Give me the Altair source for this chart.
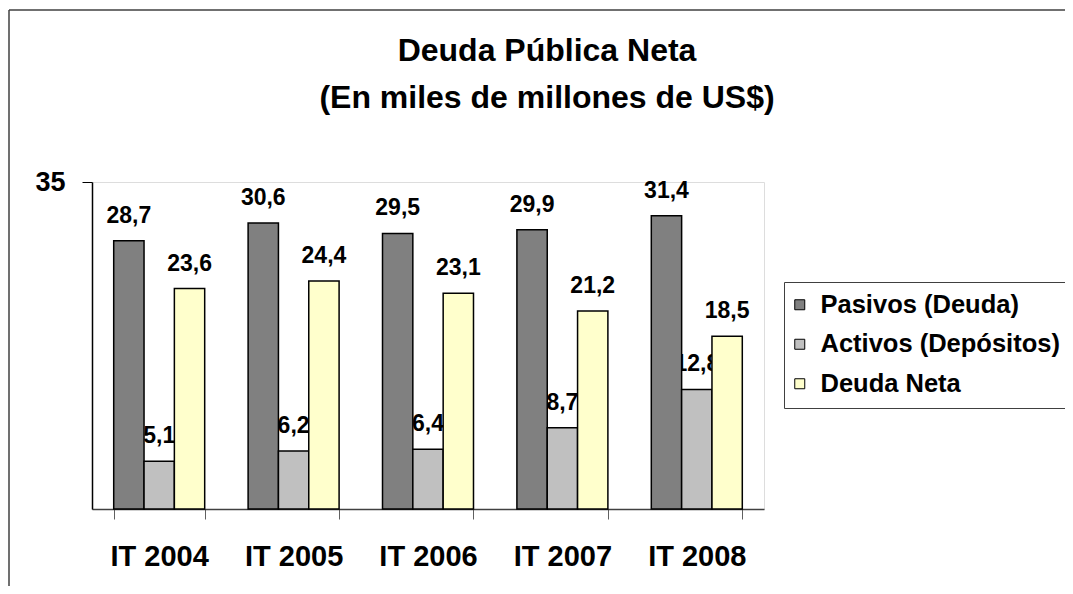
import altair as alt
import pandas as pd

periods = ["IT 2004", "IT 2005", "IT 2006", "IT 2007", "IT 2008"]
series = ["Pasivos (Deuda)", "Activos (Depósitos)", "Deuda Neta"]
pasivos = [28.7, 30.6, 29.5, 29.9, 31.4]
activos = [5.1, 6.2, 6.4, 8.7, 12.8]
neta = [23.6, 24.4, 23.1, 21.2, 18.5]
colors = ["#808080", "#C0C0C0", "#FFFFCC"]

rows = []
for i, p in enumerate(periods):
    for s, vals in zip(series, [pasivos, activos, neta]):
        rows.append({"periodo": p, "serie": s, "valor": vals[i]})
df = pd.DataFrame(rows)

FONT = "Liberation Sans"
W, H = 672, 327

x_enc = alt.X(
    "periodo:N",
    sort=periods,
    scale=alt.Scale(paddingInner=0.323, paddingOuter=0.1615),
    axis=alt.Axis(
        title=None,
        labelAngle=0,
        labelFont=FONT,
        labelFontSize=29,
        labelFontWeight="bold",
        labelColor="#000000",
        labelPadding=23,
        tickBand="extent",
        tickSize=10,
        tickColor="#606060",
        domainColor="#404040",
        domainWidth=1.5,
    ),
)
xo_enc = alt.XOffset("serie:N", sort=series, scale=alt.Scale(paddingInner=0, paddingOuter=0))
y_enc = alt.Y(
    "valor:Q",
    scale=alt.Scale(domain=[0, 35], nice=False),
    axis=alt.Axis(
        title=None,
        values=[35],
        grid=False,
        labelFont=FONT,
        labelFontSize=27,
        labelFontWeight="bold",
        labelColor="#000000",
        labelPadding=17,
        tickSize=10,
        tickColor="#000000",
        domainColor="#000000",
        domainWidth=1.5,
    ),
)

base = alt.Chart(df).encode(x=x_enc, xOffset=xo_enc, y=y_enc)

labels = base.transform_calculate(
    etiqueta="replace(format(datum.valor, '.1f'), '.', ',')"
).mark_text(
    font=FONT, fontSize=23, fontWeight="bold", color="#000000",
    baseline="alphabetic", dy=-18
).encode(text="etiqueta:N")

bars = base.mark_bar(stroke="#000000", strokeWidth=1.5).encode(
    color=alt.Color(
        "serie:N",
        sort=series,
        scale=alt.Scale(domain=series, range=colors),
        legend=alt.Legend(
            title=None,
            orient="none",
            legendX=692,
            legendY=100,
            padding=10,
            strokeColor="#404040",
            fillColor="#FFFFFF",
            symbolType="square",
            symbolSize=100,
            symbolOffset=-7,
            symbolStrokeColor="#000000",
            symbolStrokeWidth=1,
            labelFont=FONT,
            labelFontSize=25.5,
            labelFontWeight="bold",
            labelColor="#000000",
            labelOffset=8,
            rowPadding=12.5,
            labelLimit=400,
        ),
    )
)

frame_df = pd.DataFrame({"k": [0]})
left_border = alt.Chart(frame_df).mark_rule(color="#404040", strokeWidth=1.5).encode(
    x=alt.value(-83), y=alt.value(-172), y2=alt.value(404)
)
top_border = alt.Chart(frame_df).mark_rule(color="#404040", strokeWidth=1.5).encode(
    x=alt.value(-83), x2=alt.value(980), y=alt.value(-172)
)

chart = alt.layer(labels, bars, left_border, top_border).properties(
    width=W,
    height=H,
    autosize=alt.AutoSizeParams(type="none"),
    padding={"left": 84, "top": 174, "right": 301, "bottom": 77},
    title=alt.TitleParams(
        text=["Deuda Pública Neta", "(En miles de millones de US$)"],
        font=FONT,
        fontSize=32,
        fontWeight="bold",
        color="#000000",
        anchor="middle",
        frame="group",
        dx=119,
        dy=106,
        lineHeight=47,
        offset=0,
    ),
).configure_view(stroke="#808080", strokeWidth=1).configure(background="#FFFFFF")

chart.save("out.html", embed_options={"renderer": "svg", "actions": False})
